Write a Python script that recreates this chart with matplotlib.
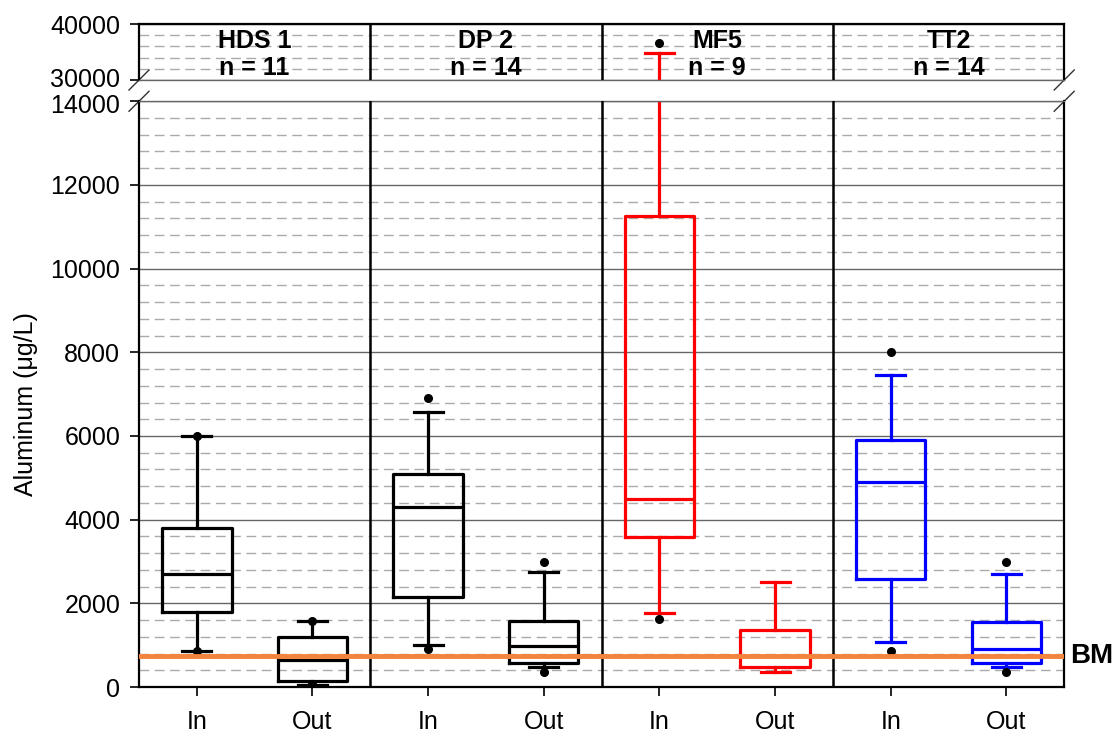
import matplotlib
matplotlib.use("Agg")
import matplotlib.pyplot as plt
import matplotlib.transforms as mtransforms

plt.rcParams['font.family'] = ['Liberation Sans', 'DejaVu Sans']

# sites and sample counts
sites = ["HDS 1", "DP 2", "MF5", "TT2"]
n_samples = [11, 14, 9, 14]
site_colors = ["black", "black", "red", "blue"]
groups = ["In", "Out"]

# box statistics per site, (In, Out), in ug/L
q1 = [[1790, 150], [2150, 570], [3580, 480], [2580, 580]]
medians = [[2700, 640], [4300, 980], [4490, 750], [4900, 900]]
q3 = [[3800, 1190], [5090, 1580], [11250, 1360], [5900, 1560]]
whisker_lo = [[860, 50], [1000, 480], [1770, 360], [1070, 480]]
whisker_hi = [[6000, 1580], [6570, 2750], [34900, 2510], [7450, 2700]]
outliers = [[[6000, 860], [1580, 70]],
            [[6900, 910], [2990, 370]],
            [[36600, 1630], []],
            [[8000, 860], [2990, 370]]]

bm_level = 750

fig = plt.figure(figsize=(11.12, 7.34), dpi=100)
ax_top = fig.add_axes([0.125, 0.891, 0.832, 0.0763])
ax_low = fig.add_axes([0.125, 0.064, 0.832, 0.798])

for ax in (ax_top, ax_low):
    for i in range(len(sites)):
        stats = []
        for j in range(2):
            stats.append(dict(med=medians[i][j], q1=q1[i][j], q3=q3[i][j],
                              whislo=whisker_lo[i][j], whishi=whisker_hi[i][j],
                              fliers=outliers[i][j]))
        c = site_colors[i]
        ax.bxp(stats, positions=[2 * i + 0.5, 2 * i + 1.5], widths=0.6, capwidths=0.25,
               boxprops=dict(color=c, linewidth=2.3),
               medianprops=dict(color=c, linewidth=2.3),
               whiskerprops=dict(color=c, linewidth=2.3),
               capprops=dict(color=c, linewidth=2.3),
               flierprops=dict(marker='o', markerfacecolor='black', markeredgecolor='black',
                               markersize=5.5))
    for x in (2, 4, 6):
        ax.axvline(x, color='black', linewidth=1.8, zorder=3)
    ax.set_xlim(0, 8)
    ax.set_axisbelow(True)
    ax.grid(True, which='major', axis='y', color='#666666', linewidth=1)
    ax.grid(True, which='minor', axis='y', color='#aaaaaa', linewidth=1, dashes=(7, 4))
    for s in ax.spines.values():
        s.set_linewidth(1.6)
    ax.tick_params(axis='both', labelsize=18, length=6.5, width=1.2, direction='out', pad=7)
    ax.tick_params(axis='y', which='minor', length=0)

# upper part of the broken axis
ax_top.set_ylim(30000, 40000)
ax_top.set_yticks([30000, 40000])
ax_top.set_yticks(range(32000, 40000, 2000), minor=True)
ax_top.set_xticks([])
ax_top.spines['bottom'].set_color('#666666')
ax_top.spines['bottom'].set_linewidth(1)

# lower part
ax_low.set_ylim(0, 14000)
ax_low.set_yticks(range(0, 14001, 2000))
ax_low.set_yticks([v for v in range(400, 14000, 400) if v % 2000], minor=True)
ax_low.set_xticks([i + 0.5 for i in range(8)])
ax_low.set_xticklabels(groups * 4)
ax_low.spines['top'].set_color('#666666')
ax_low.spines['top'].set_linewidth(1)
ax_low.tick_params(axis='x', pad=10)

# pull the two labels at the break apart a little
up = mtransforms.ScaledTranslation(0, 2 / 72, fig.dpi_scale_trans)
down = mtransforms.ScaledTranslation(0, -1.5 / 72, fig.dpi_scale_trans)
t30 = ax_top.yaxis.get_major_ticks()[0].label1
t30.set_transform(t30.get_transform() + up)
t14 = ax_low.yaxis.get_major_ticks()[-1].label1
t14.set_transform(t14.get_transform() + down)

# site names and counts
for i, name in enumerate(sites):
    ax_top.text(2 * i + 1, 37000, name, ha='center', va='center', fontsize=18, fontweight='bold')
    ax_top.text(2 * i + 1, 32100, "n = %d" % n_samples[i], ha='center', va='center',
                fontsize=18, fontweight='bold')

# baseline marker line
ax_low.axhline(bm_level, color='#F4843C', linewidth=3.5, zorder=4)
ax_low.text(8.05, bm_level, "BM", ha='left', va='center', fontsize=20, fontweight='bold')

# break marks
dx, dy = 10 / 925, 10 / 56
for x0 in (0, 1):
    ax_top.plot([x0 - dx, x0 + dx], [-dy, dy], transform=ax_top.transAxes,
                color='#333333', linewidth=1, clip_on=False)
dy2 = 10 / 586
for x0 in (0, 1):
    ax_low.plot([x0 - dx, x0 + dx], [1 - dy2, 1 + dy2], transform=ax_low.transAxes,
                color='#333333', linewidth=1, clip_on=False)

fig.text(0.023, 0.45, "Aluminum (\u03bcg/L)", rotation=90, ha='center', va='center', fontsize=18)

fig.savefig("out.png", dpi=100)
